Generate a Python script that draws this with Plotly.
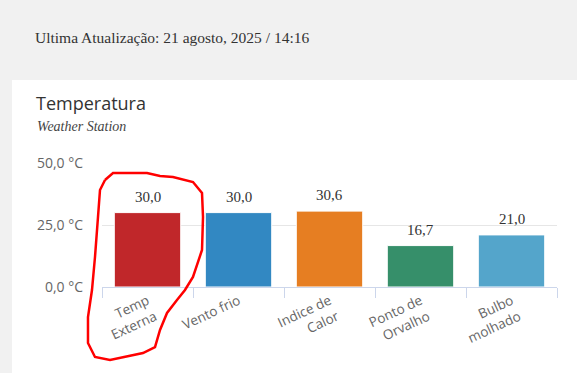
import plotly.graph_objects as go

categories = ["Temp<br>Externa", "Vento frio", "Indice de<br>Calor", "Ponto de<br>Orvalho", "Bulbo<br>molhado"]
values = [30.0, 30.0, 30.6, 16.7, 21.0]
colors = ["#c0272a", "#3288c2", "#e67e22", "#368f6a", "#54a5cb"]
y_ticks = [0, 25, 50]
y_tick_labels = ["0,0 °C", "25,0 °C", "50,0 °C"]

W, H = 577, 373
L, R, T, B = 102, 20, 163, 86
PW, PH = W - L - R, H - T - B


def px(x):
    return (x - L) / PW


def py(y):
    return (H - B - y) / PH


fig = go.Figure()
fig.add_trace(go.Bar(
    x=categories, y=values,
    marker=dict(color=colors, line=dict(color="#ffffff", width=1)),
    width=0.73,
    hoverinfo="skip",
))

for c, v in zip(categories, values):
    fig.add_annotation(x=c, y=v, text=f"{v:.1f}".replace(".", ","), showarrow=False,
                       yanchor="bottom", yshift=6,
                       font=dict(family="Liberation Serif", size=15, color="#333333"))

# card background
fig.add_shape(type="rect", xref="paper", yref="paper", x0=px(12), x1=px(W + 5),
              y0=py(H + 5), y1=py(80), fillcolor="#ffffff", line=dict(width=0), layer="below")

# hand-drawn circle
pts = [(105, 180), (113, 173), (147, 173), (160, 176), (173, 177), (193, 182), (202, 193),
       (203, 217), (202, 250), (193, 277), (185, 290), (177, 300), (167, 313), (160, 330),
       (155, 347), (143, 353), (110, 360), (95, 357), (88, 343), (88, 317), (92, 290),
       (95, 257), (98, 217), (100, 190), (105, 180)]
path = "M " + " L ".join(f"{px(x):.4f},{py(y):.4f}" for x, y in pts)
fig.add_shape(type="path", xref="paper", yref="paper", path=path,
              line=dict(color="#ff0000", width=2.5), layer="above")

fig.add_annotation(xref="paper", yref="paper", x=px(33), y=py(37), xanchor="left", yanchor="middle",
                   text="Ultima Atualização: 21 agosto, 2025 / 14:16", showarrow=False,
                   font=dict(family="Liberation Serif", size=15.5, color="#333333"))
fig.add_annotation(xref="paper", yref="paper", x=px(34), y=py(103), xanchor="left", yanchor="middle",
                   text="Temperatura", showarrow=False,
                   font=dict(family="Open Sans", size=18, color="#333333"))
fig.add_annotation(xref="paper", yref="paper", x=px(35), y=py(126), xanchor="left", yanchor="middle",
                   text="<i>Weather Station</i>", showarrow=False,
                   font=dict(family="Liberation Serif", size=14, color="#444444"))

fig.update_layout(
    width=W, height=H,
    margin=dict(l=L, r=R, t=T, b=B),
    paper_bgcolor="#f1f1f1", plot_bgcolor="#ffffff",
    showlegend=False,
    separators=",.",
    xaxis=dict(showgrid=False, showline=True, linecolor="#ccd6eb", linewidth=1,
               ticks="outside", ticklen=10, tickcolor="#ccd6eb", tickson="boundaries",
               tickangle=-25, tickfont=dict(family="Open Sans", size=13.5, color="#666666")),
    yaxis=dict(range=[0, 50], tickvals=y_ticks, ticktext=y_tick_labels,
               showgrid=True, gridcolor="#e6e6e6", zeroline=False, showline=False,
               ticklabelstandoff=18,
               tickfont=dict(family="Open Sans", size=14, color="#666666")),
)

fig.write_html("out.html", config={"displayModeBar": False},
               post_script="document.body.style.margin='0';")
